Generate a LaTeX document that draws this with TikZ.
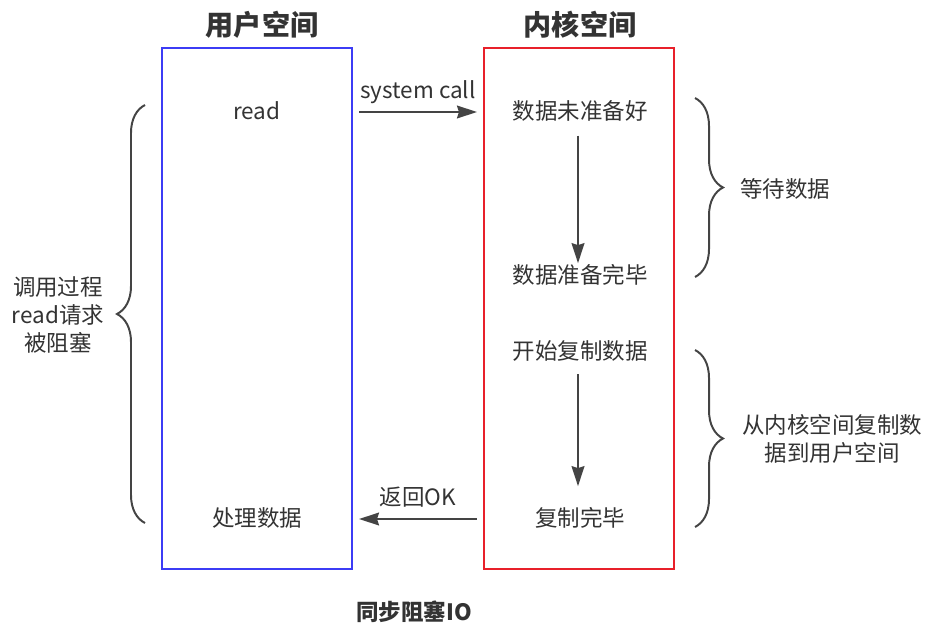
\documentclass[tikz,border=0pt]{standalone}
\usepackage{fontspec}
\setmainfont{Noto Sans CJK SC}
\usetikzlibrary{positioning, arrows.meta, decorations.pathreplacing, calc}
\definecolor{txtGray}{HTML}{333333}
\definecolor{lineGray}{HTML}{444444}
\definecolor{userBlue}{HTML}{3C3CF5}
\definecolor{kernRed}{HTML}{E8202A}
\tikzset{
  ioBox/.style={rectangle, line width=1.4pt, minimum width=4.75cm, minimum height=13.025cm, inner sep=0pt},
  ioTitle/.style={text=txtGray, font=\fontsize{20}{24}\selectfont\bfseries, inner sep=0pt},
  ioText/.style={text=txtGray, font=\fontsize{16}{20}\selectfont, align=center, inner sep=0pt, text height=12.5pt, text depth=2.5pt},
  ioArr/.style={line width=1.4pt, draw=lineGray, -{Stealth[length=0.5cm, width=0.32cm, inset=0.05cm]}},
  ioBrace/.style={line width=1.4pt, draw=lineGray, decorate, decoration={brace, amplitude=0.7cm, aspect=0.5}},
}
\begin{document}
\begin{tikzpicture}[x=0.025cm, y=-0.025cm]
\useasboundingbox (0,0) rectangle (937,643);
\node (user) [ioBox, draw=userBlue] at (257,308.5) {};
\node (kernel) [ioBox, draw=kernRed] at (579,308.5) {};
\node (userT) [ioTitle] at (262,25) {用户空间};
\node (kernT) [ioTitle] at (580,25) {内核空间};

% texts inside boxes
\node (rd) [ioText] at (257,112) {read};
\node (proc) [ioText] at (257,519) {处理数据};
\node (notReady) [ioText] at (580,112) {数据未准备好};
\node (ready) [ioText] at (580,276) {数据准备完毕};
\node (cpStart) [ioText] at (580,352) {开始复制数据};
\node (cpDone) [ioText] at (580,519) {复制完毕};

\draw [ioArr, shorten <=0.15cm, shorten >=0.15cm] (rd -| user.east) -- node[ioText, above=0.22cm]{system call} (rd -| kernel.west);
\draw [ioArr, shorten <=0.15cm, shorten >=0.15cm] (cpDone -| kernel.west) -- node[ioText, above=0.22cm]{返回OK} (cpDone -| user.east);
\draw [ioArr, shorten <=0.32cm, shorten >=0.05cm] ([xshift=-0.05cm]notReady.south) -- ([xshift=-0.05cm]ready.north);
\draw [ioArr, shorten <=0.28cm, shorten >=0.55cm] ([xshift=-0.05cm]cpStart.south) -- ([xshift=-0.05cm]cpDone.north);

% braces
\draw [ioBrace] (145,523) -- (145,105);
\draw [ioBrace] (695,98) -- (695,277);
\draw [ioBrace] (695,350) -- (695,527);
\node (blocked) [ioText, text height=, text depth=] at (58,315) {调用过程\\read请求\\被阻塞};
\node (waitD) [ioText] at (785,190) {等待数据};
\node (copyD) [ioText, text height=, text depth=] at (832,439) {从内核空间复制数\\据到用户空间};

\node (caption) [ioTitle, font=\fontsize{16}{18}\selectfont\bfseries] at (414,612) {同步阻塞IO};
\end{tikzpicture}
\end{document}
